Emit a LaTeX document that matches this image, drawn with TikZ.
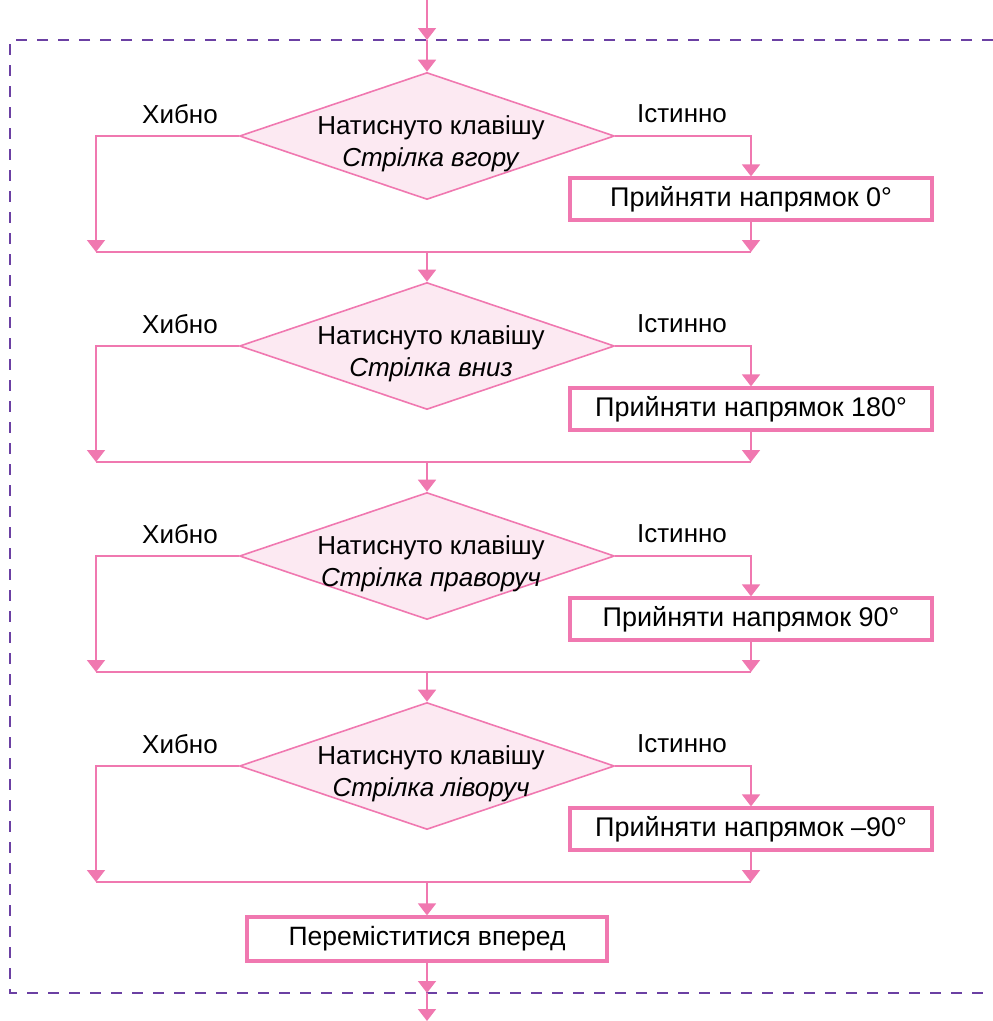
\documentclass[tikz,border=0pt]{standalone}
\usepackage{fontspec}
\setmainfont{Liberation Sans}
\usetikzlibrary{arrows.meta,shapes.geometric,calc}
\definecolor{flow}{HTML}{F078B0}
\definecolor{flowfill}{HTML}{FCE9F2}
\definecolor{frame}{HTML}{6B40A3}
\tikzset{
  cond/.style={diamond,draw=flow,fill=flowfill,line width=1.6pt,
    minimum width=375pt,minimum height=127pt,inner sep=0pt},
  act/.style={draw=flow,line width=3.2pt,fill=white,minimum height=42pt,
    inner sep=0pt,font=\fontsize{27}{30}\selectfont},
  fl/.style={draw=flow,line width=1.7pt,-{Triangle[length=12pt,width=18pt]}},
  ln/.style={draw=flow,line width=1.7pt},
  txt/.style={font=\fontsize{26}{32}\selectfont,align=center},
  bound/.style={draw=frame,line width=2.8pt,dash pattern=on 11pt off 10pt},
}

\begin{document}
\begin{tikzpicture}[x=1pt,y=-1pt]
  \useasboundingbox (0,0) rectangle (993,1021);
  \draw[bound] (993,40) -- (10,40) -- (10,993) -- (993,993);
  \coordinate (in) at (427,0);
  \coordinate (t1) at (427,40);
  \coordinate (t2) at (427,993);
  \coordinate (out) at (427,1021);
  \node[act,minimum width=360pt,minimum height=44pt,font=\fontsize{26.5}{30}\selectfont] (fwd) at (427,939) {Переміститися вперед};
  \foreach \i/\arrowname/\angl in {1/вгору/0,2/вниз/180,3/праворуч/90,4/ліворуч/–90}{
    \pgfmathtruncatemacro\yc{136+210*(\i-1)}
    \node[cond] (d\i) at (427,\yc) {};
    \node[txt] (q\i) at ($(d\i.center)+(4,8)$) {Натиснуто клавішу\\\textit{Стрілка \arrowname}};
    \node[txt] (f\i) at (180,\yc-22) {Хибно};
    \node[txt] (s\i) at (682,\yc-22) {Істинно};
    \node[act,minimum width=362pt] (a\i) at (751,\yc+63) {Прийняти напрямок \angl°};
    \coordinate (l\i) at (96,\yc+116);
    \coordinate (r\i) at (751,\yc+116);
    \coordinate (m\i) at (427,\yc+116);
    \draw[fl] (d\i.west) -| (l\i);
    \draw[fl] (d\i.east) -| (a\i.north);
    \draw[fl] (a\i.south) -- (r\i);
    \draw[ln] (l\i) -- (r\i);}
  \draw[fl] (in) -- (t1);
  \draw[fl] (t1) -- (d1.north);
  \draw[fl] (m1) -- (d2.north);
  \draw[fl] (m2) -- (d3.north);
  \draw[fl] (m3) -- (d4.north);
  \draw[fl] (m4) -- (fwd.north);
  \draw[fl] (fwd.south) -- (t2);
  \draw[fl] (t2) -- (out);
\end{tikzpicture}
\end{document}
